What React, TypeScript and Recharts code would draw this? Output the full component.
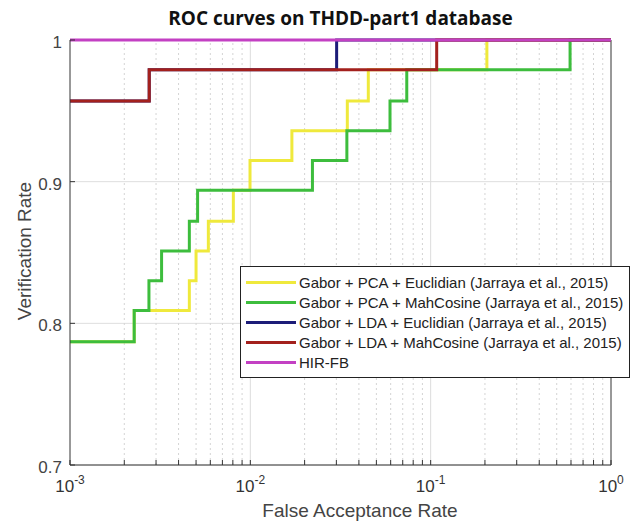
import { LineChart, Line, XAxis, YAxis, CartesianGrid, ReferenceLine, Legend, Label } from "recharts";

// false acceptance rate (x) / verification rate (y) for each step curve
const pcaEucFar = [0.001, 0.00227, 0.00459, 0.005, 0.00585, 0.00805, 0.00996, 0.017, 0.0345, 0.0451, 0.205, 1];
const pcaEucRate = [0.787, 0.809, 0.83, 0.851, 0.872, 0.894, 0.915, 0.936, 0.957, 0.979, 1, 1];

const pcaMahFar = [0.001, 0.00227, 0.00274, 0.00322, 0.00459, 0.0051, 0.0221, 0.0343, 0.0595, 0.0737, 0.593, 1];
const pcaMahRate = [0.787, 0.809, 0.83, 0.851, 0.872, 0.894, 0.915, 0.936, 0.957, 0.979, 1, 1];

const ldaEucFar = [0.001, 0.00275, 0.0301, 1];
const ldaEucRate = [0.957, 0.979, 1, 1];

const ldaMahFar = [0.001, 0.00275, 0.108, 1];
const ldaMahRate = [0.957, 0.979, 1, 1];

const hirFar = [0.001, 1];
const hirRate = [1, 1];

const majorTicks = [0.001, 0.01, 0.1, 1];
const majorExp = ["-3", "-2", "-1", "0"];
const minorTicks = [
  0.002, 0.003, 0.004, 0.005, 0.006, 0.007, 0.008, 0.009,
  0.02, 0.03, 0.04, 0.05, 0.06, 0.07, 0.08, 0.09,
  0.2, 0.3, 0.4, 0.5, 0.6, 0.7, 0.8, 0.9,
];
const yTicks = [0.7, 0.8, 0.9, 1];
const yTickLabels = ["0.7", "0.8", "0.9", "1"];

const zip = (xs: number[], ys: number[]) => xs.map((x, i) => ({ x, y: ys[i] }));

const series = [
  { name: "Gabor + PCA + Euclidian (Jarraya et al., 2015)", color: "#efe93c", data: zip(pcaEucFar, pcaEucRate) },
  { name: "Gabor + PCA + MahCosine (Jarraya et al., 2015)", color: "#3dbd3d", data: zip(pcaMahFar, pcaMahRate) },
  { name: "Gabor + LDA + Euclidian (Jarraya et al., 2015)", color: "#1c1c78", data: zip(ldaEucFar, ldaEucRate) },
  { name: "Gabor + LDA + MahCosine (Jarraya et al., 2015)", color: "#a3201d", data: zip(ldaMahFar, ldaMahRate) },
  { name: "HIR-FB", color: "#c340c3", data: zip(hirFar, hirRate) },
];
const seriesOrder = series.map((s) => s.name);

const FONT = "'Liberation Sans', Arial, sans-serif";

function XTick({ x, y, payload }: any) {
  const i = majorTicks.indexOf(payload.value);
  return (
    <g>
      <line x1={x} x2={x} y1={y} y2={y - 5} stroke="#333" />
      {i >= 0 && (
        <text x={x} y={y + 27} textAnchor="middle" fontSize={17} fill="#333" fontFamily={FONT}>
          <tspan>10</tspan>
          <tspan dy={-8} fontSize={12}>{majorExp[i]}</tspan>
        </text>
      )}
    </g>
  );
}

function YTick({ x, y, payload }: any) {
  const i = yTicks.indexOf(payload.value);
  return (
    <g>
      <line x1={x} x2={x + 5} y1={y} y2={y} stroke="#333" />
      <text x={x - 8} y={y + 3} dy="0.3em" textAnchor="end" fontSize={17} fill="#444" fontFamily={FONT}>
        {yTickLabels[i]}
      </text>
    </g>
  );
}

function LegendBox({ payload }: any) {
  const items = [...(payload || [])].sort(
    (a: any, b: any) => seriesOrder.indexOf(a.value) - seriesOrder.indexOf(b.value)
  );
  return (
    <div
      style={{
        border: "1px solid #222",
        background: "#fff",
        padding: "5px 6px 5px 5px",
        fontFamily: FONT,
        fontSize: 15,
        color: "#222",
      }}
    >
      {items.map((p: any) => (
        <div key={p.value} style={{ display: "flex", alignItems: "center", height: 20 }}>
          <span style={{ display: "inline-block", width: 50, height: 3, background: p.color, marginRight: 3 }} />
          <span style={{ whiteSpace: "nowrap" }}>{p.value}</span>
        </div>
      ))}
    </div>
  );
}

export default function App() {
  return (
    <div style={{ position: "absolute", left: 0, top: 0, width: 639, height: 525, background: "#fff" }}>
      <div
        style={{
          position: "absolute",
          left: 70,
          width: 541,
          top: 5,
          textAlign: "center",
          fontFamily: "'Open Sans', sans-serif",
          fontWeight: 700,
          fontSize: 19,
          color: "#111",
        }}
      >
        ROC curves on THDD-part1 database
      </div>
      <LineChart width={639} height={525} margin={{ top: 40, right: 28, bottom: 20, left: 0 }}>
        <CartesianGrid vertical={false} stroke="#dedede" />
        <XAxis
          dataKey="x"
          type="number"
          scale="log"
          domain={[0.001, 1]}
          allowDataOverflow
          ticks={[...majorTicks, ...minorTicks]}
          interval={0}
          tick={<XTick />}
          tickLine={false}
          tickSize={0}
          tickMargin={0}
          height={40}
          stroke="#333"
        >
          <Label
            content={() => (
              <text x={360} y={517} textAnchor="middle" fontSize={19} fill="#444" fontFamily={FONT}>
                False Acceptance Rate
              </text>
            )}
          />
        </XAxis>
        <YAxis
          type="number"
          domain={[0.7, 1]}
          ticks={yTicks}
          interval={0}
          tick={<YTick />}
          tickLine={false}
          tickSize={0}
          tickMargin={0}
          width={70}
          stroke="#333"
        >
          <Label
            content={() => (
              <text
                x={24}
                y={251}
                transform="rotate(-90, 24, 251)"
                textAnchor="middle"
                dominantBaseline="central"
                fontSize={19}
                fill="#444"
                fontFamily={FONT}
              >
                Verification Rate
              </text>
            )}
          />
        </YAxis>
        {minorTicks.map((v) => (
          <ReferenceLine key={"m" + v} x={v} stroke="#d4d4d4" strokeDasharray="2 3" />
        ))}
        {majorTicks.slice(1, 3).map((v) => (
          <ReferenceLine key={"M" + v} x={v} stroke="#dcdcdc" />
        ))}
        <ReferenceLine x={1} stroke="#333" />
        <ReferenceLine y={1} stroke="#333" />
        {series.map((s) => (
          <Line
            key={s.name}
            data={s.data}
            dataKey="y"
            name={s.name}
            type="stepAfter"
            stroke={s.color}
            strokeWidth={3}
            dot={false}
            activeDot={false}
            isAnimationActive={false}
          />
        ))}
        <Legend
          layout="vertical"
          align="center"
          verticalAlign="middle"
          wrapperStyle={{ left: 240, top: 266, width: "auto" }}
          content={<LegendBox />}
        />
      </LineChart>
    </div>
  );
}
